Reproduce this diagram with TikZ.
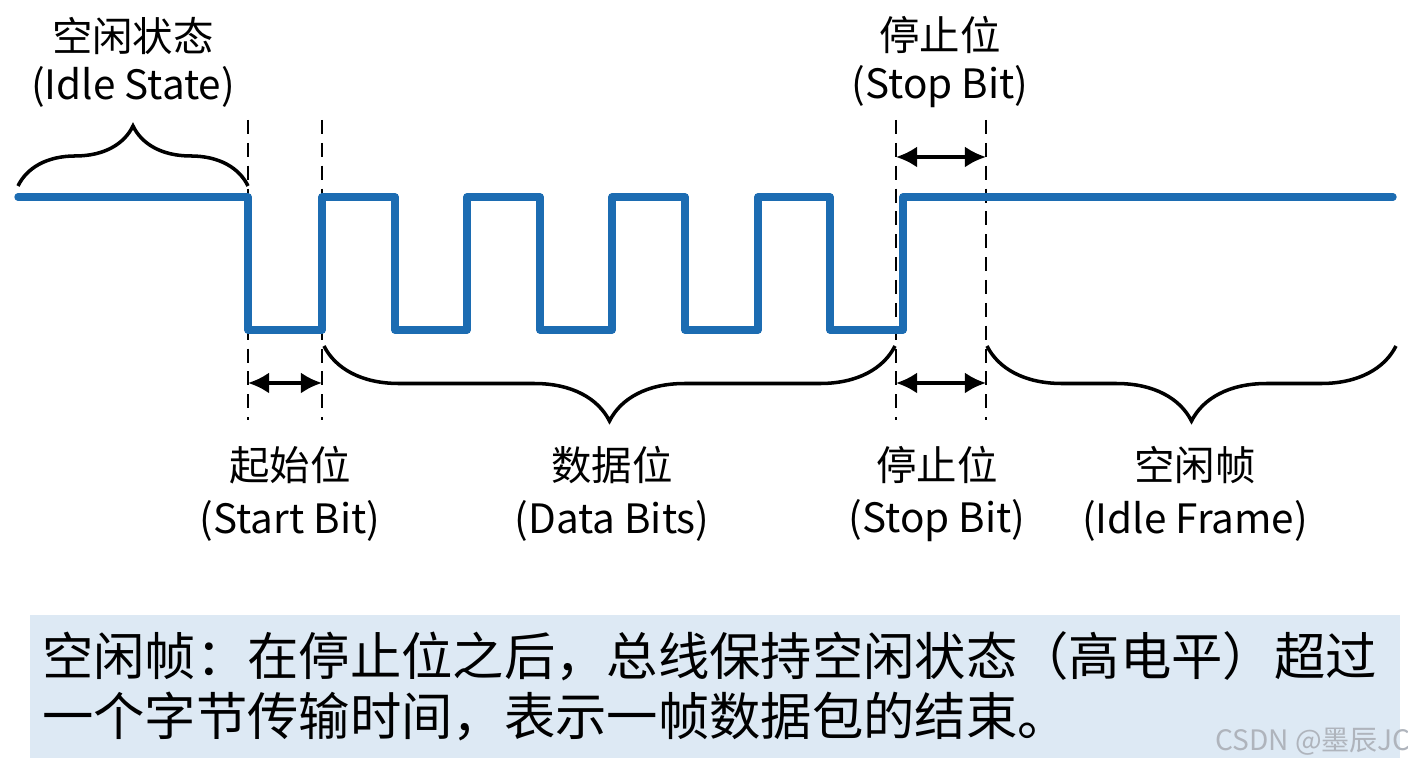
\documentclass[tikz,border=0pt]{standalone}
\usepackage{fontspec}
\usepackage{xcolor}
\usepackage{tikz}
\usetikzlibrary{arrows.meta,positioning,decorations.pathreplacing}
\newfontfamily\cjk{Noto Sans CJK SC}
\definecolor{signal}{RGB}{28,108,178}
\definecolor{notebg}{RGB}{221,233,244}
\definecolor{marktext}{RGB}{175,180,188}

\begin{document}
\begin{tikzpicture}[
    x=0.01cm, y=-0.01cm,
    wave/.style={signal, line width=2.1pt, line cap=round, line join=round},
    guide/.style={black, line width=0.5pt, dash pattern=on 4pt off 2.5pt},
    span/.style={{Latex[length=6pt,width=6pt]}-{Latex[length=6pt,width=6pt]}, line width=1pt},
    topbrace/.style={decorate, decoration={brace, amplitude=0.6cm}, line width=1pt},
    botbrace/.style={decorate, decoration={brace, mirror, amplitude=0.75cm}, line width=1pt},
    toplabel/.style={font=\cjk\fontsize{11.5}{13.7}\selectfont, align=center, inner sep=0pt},
    botlabel/.style={font=\cjk\fontsize{11.5}{15}\selectfont, align=center, inner sep=0pt},
    notebox/.style={fill=notebg, minimum width=13.7cm, minimum height=1.43cm, text width=13.45cm, align=left, inner xsep=0.125cm, inner ysep=0pt, font=\cjk\fontsize{14.6}{17}\selectfont}
]
\useasboundingbox (0,0) rectangle (1408,768);

% Bit boundaries
\foreach \x/\n in {248/a, 322/b, 896/c, 986/d} {
  \coordinate (\n top) at (\x,120);
  \coordinate (\n bot) at (\x,420);
  \draw[guide] (\n top) -- (\n bot);
}

% Signal
\draw[wave] (18,197) -| (248,330) -| (322,197) -| (395,330) -| (467,197)
  -| (540,330) -| (612,197) -| (685,330) -| (758,197) -| (830,330)
  -| (903,197) -- (1393,197);

% Bit width arrows
\coordinate (startL) at (248,383);
\coordinate (startR) at (322,383);
\coordinate (stopL) at (896,383);
\coordinate (stopR) at (986,383);
\coordinate (stoptopL) at (896,157);
\coordinate (stoptopR) at (986,157);
\draw[span] (startL) -- (startR);
\draw[span] (stopL) -- (stopR);
\draw[span] (stoptopL) -- (stoptopR);

% Braces
\draw[topbrace] (18,186) -- (248,186);
\draw[botbrace] (324,346) -- (895,346);
\draw[botbrace] (987,346) -- (1396,346);

% Labels
\node[toplabel] (idle) at (133,62) {空闲状态\\(Idle State)};
\node[toplabel] (stoptop) at (940,62) {停止位\\(Stop Bit)};
\node[botlabel] (start) at (290,494) {起始位\\(Start Bit)};
\node[botlabel] (data) at (612,494) {数据位\\(Data Bits)};
\node[botlabel] (stop) at (937,494) {停止位\\(Stop Bit)};
\node[botlabel] (frame) at (1195,494) {空闲帧\\(Idle Frame)};

% Note
\node[notebox] (note) at (715,686.5) {空闲帧：在停止位之后，总线保持空闲状态（高电平）超过\\一个字节传输时间，表示一帧数据包的结束。};
\node[font=\cjk\fontsize{8}{9}\selectfont, text=marktext, inner sep=0pt] (mark) at (1313,742) {CSDN @墨辰JC};

\end{tikzpicture}
\end{document}
